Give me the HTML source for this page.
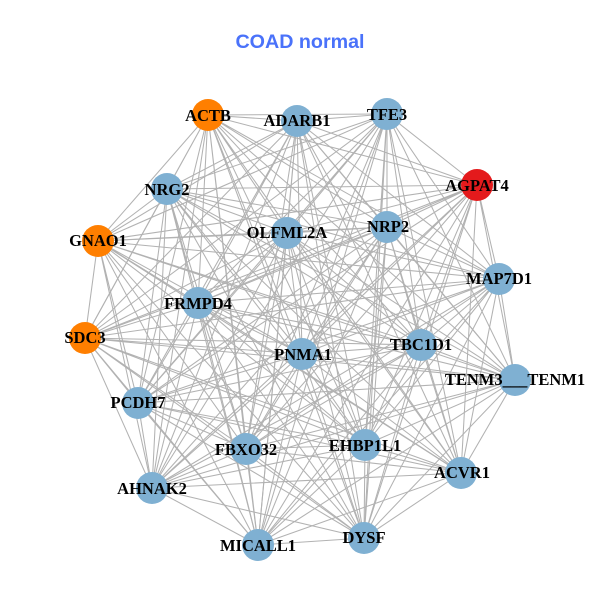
<!DOCTYPE html>
<html><head><meta charset="utf-8"><style>
html,body{margin:0;padding:0;background:#fff;width:600px;height:600px;overflow:hidden}
svg{display:block}
.l{font:bold 16.5px "Liberation Serif",serif;text-anchor:middle;fill:#000}
</style></head><body>
<svg width="600" height="600" viewBox="0 0 600 600">
<text x="300" y="48" text-anchor="middle" style="font:bold 19.7px 'Liberation Sans',sans-serif" fill="#4a72fa">COAD normal</text>
<g fill="none" stroke="#b2b2b2" stroke-width="1.05">
<path d="M208 115L297 121 208 115 387 114 208 115 477 185 208 115 167 189 208 115 287 233 208 115 387 227 208 115 499 279 208 115 98 241 208 115 198 303 208 115 85 338 208 115 302 354 208 115 421 345 208 115 515 380 208 115 138 403 208 115 246 449 208 115 365 445 208 115 461 473 208 115 152 488 208 115 258 545 208 115 364 538"/>
<path d="M297 121L387 114 297 121 477 185 297 121 167 189 297 121 287 233 297 121 387 227 297 121 499 279 297 121 98 241 297 121 198 303 297 121 85 338 297 121 302 354 297 121 421 345 297 121 515 380 297 121 138 403 297 121 246 449 297 121 365 445 297 121 461 473 297 121 152 488 297 121 258 545 297 121 364 538"/>
<path d="M387 114L477 185 387 114 167 189 387 114 287 233 387 114 387 227 387 114 499 279 387 114 98 241 387 114 198 303 387 114 85 338 387 114 302 354 387 114 421 345 387 114 515 380 387 114 138 403 387 114 246 449 387 114 365 445 387 114 461 473 387 114 152 488 387 114 258 545 387 114 364 538"/>
<path d="M477 185L167 189 477 185 287 233 477 185 387 227 477 185 499 279 477 185 98 241 477 185 198 303 477 185 85 338 477 185 302 354 477 185 421 345 477 185 515 380 477 185 138 403 477 185 246 449 477 185 365 445 477 185 461 473 477 185 152 488 477 185 258 545 477 185 364 538"/>
<path d="M167 189L287 233 167 189 387 227 167 189 499 279 167 189 98 241 167 189 198 303 167 189 85 338 167 189 302 354 167 189 421 345 167 189 515 380 167 189 138 403 167 189 246 449 167 189 365 445 167 189 461 473 167 189 152 488 167 189 258 545 167 189 364 538"/>
<path d="M287 233L387 227 287 233 499 279 287 233 98 241 287 233 198 303 287 233 85 338 287 233 302 354 287 233 421 345 287 233 515 380 287 233 138 403 287 233 246 449 287 233 365 445 287 233 461 473 287 233 152 488 287 233 258 545 287 233 364 538"/>
<path d="M387 227L499 279 387 227 98 241 387 227 198 303 387 227 85 338 387 227 302 354 387 227 421 345 387 227 515 380 387 227 138 403 387 227 246 449 387 227 365 445 387 227 461 473 387 227 152 488 387 227 258 545 387 227 364 538"/>
<path d="M499 279L98 241 499 279 198 303 499 279 85 338 499 279 302 354 499 279 421 345 499 279 515 380 499 279 138 403 499 279 246 449 499 279 365 445 499 279 461 473 499 279 152 488 499 279 258 545 499 279 364 538"/>
<path d="M98 241L198 303 98 241 85 338 98 241 302 354 98 241 421 345 98 241 515 380 98 241 138 403 98 241 246 449 98 241 365 445 98 241 461 473 98 241 152 488 98 241 258 545 98 241 364 538"/>
<path d="M198 303L85 338 198 303 302 354 198 303 421 345 198 303 515 380 198 303 138 403 198 303 246 449 198 303 365 445 198 303 461 473 198 303 152 488 198 303 258 545 198 303 364 538"/>
<path d="M85 338L302 354 85 338 421 345 85 338 515 380 85 338 138 403 85 338 246 449 85 338 365 445 85 338 461 473 85 338 152 488 85 338 258 545 85 338 364 538"/>
<path d="M302 354L421 345 302 354 515 380 302 354 138 403 302 354 246 449 302 354 365 445 302 354 461 473 302 354 152 488 302 354 258 545 302 354 364 538"/>
<path d="M421 345L515 380 421 345 138 403 421 345 246 449 421 345 365 445 421 345 461 473 421 345 152 488 421 345 258 545 421 345 364 538"/>
<path d="M515 380L138 403 515 380 246 449 515 380 365 445 515 380 461 473 515 380 152 488 515 380 258 545 515 380 364 538"/>
<path d="M138 403L246 449 138 403 365 445 138 403 461 473 138 403 152 488 138 403 258 545 138 403 364 538"/>
<path d="M246 449L365 445 246 449 461 473 246 449 152 488 246 449 258 545 246 449 364 538"/>
<path d="M365 445L461 473 365 445 152 488 365 445 258 545 365 445 364 538"/>
<path d="M461 473L152 488 461 473 258 545 461 473 364 538"/>
<path d="M152 488L258 545 152 488 364 538"/>
<path d="M258 545L364 538"/>
</g>
<g fill="#7fb0d2">
<circle cx="297" cy="121" r="16"/><circle cx="387" cy="114" r="16"/><circle cx="167" cy="189" r="16"/><circle cx="287" cy="233" r="16"/><circle cx="387" cy="227" r="16"/><circle cx="499" cy="279" r="16"/><circle cx="198" cy="303" r="16"/><circle cx="302" cy="354" r="16"/><circle cx="421" cy="345" r="16"/><circle cx="515" cy="380" r="16"/><circle cx="138" cy="403" r="16"/><circle cx="246" cy="449" r="16"/><circle cx="365" cy="445" r="16"/><circle cx="461" cy="473" r="16"/><circle cx="152" cy="488" r="16"/><circle cx="258" cy="545" r="16"/><circle cx="364" cy="538" r="16"/>
</g>
<g fill="#ff7f00"><circle cx="208" cy="115" r="16"/><circle cx="98" cy="241" r="16"/><circle cx="85" cy="338" r="16"/></g>
<circle cx="477" cy="185" r="16" fill="#e41a1c"/>
<g class="t">
<text class="l" x="208" y="121">ACTB</text>
<text class="l" x="297" y="126">ADARB1</text>
<text class="l" x="387" y="120">TFE3</text>
<text class="l" x="477" y="191">AGPAT4</text>
<text class="l" x="167" y="195">NRG2</text>
<text class="l" x="287" y="238">OLFML2A</text>
<text class="l" x="388" y="232">NRP2</text>
<text class="l" x="499" y="284">MAP7D1</text>
<text class="l" x="98" y="246">GNAO1</text>
<text class="l" x="198" y="309">FRMPD4</text>
<text class="l" x="85" y="343">SDC3</text>
<text class="l" x="303" y="360">PNMA1</text>
<text class="l" x="421" y="350">TBC1D1</text>
<text class="l" x="515" y="385">TENM3___TENM1</text>
<text class="l" x="138" y="408">PCDH7</text>
<text class="l" x="246" y="455">FBXO32</text>
<text class="l" x="365" y="451">EHBP1L1</text>
<text class="l" x="462" y="478">ACVR1</text>
<text class="l" x="152" y="494">AHNAK2</text>
<text class="l" x="258" y="551">MICALL1</text>
<text class="l" x="364" y="543">DYSF</text>
</g>
</svg>
</body></html>
